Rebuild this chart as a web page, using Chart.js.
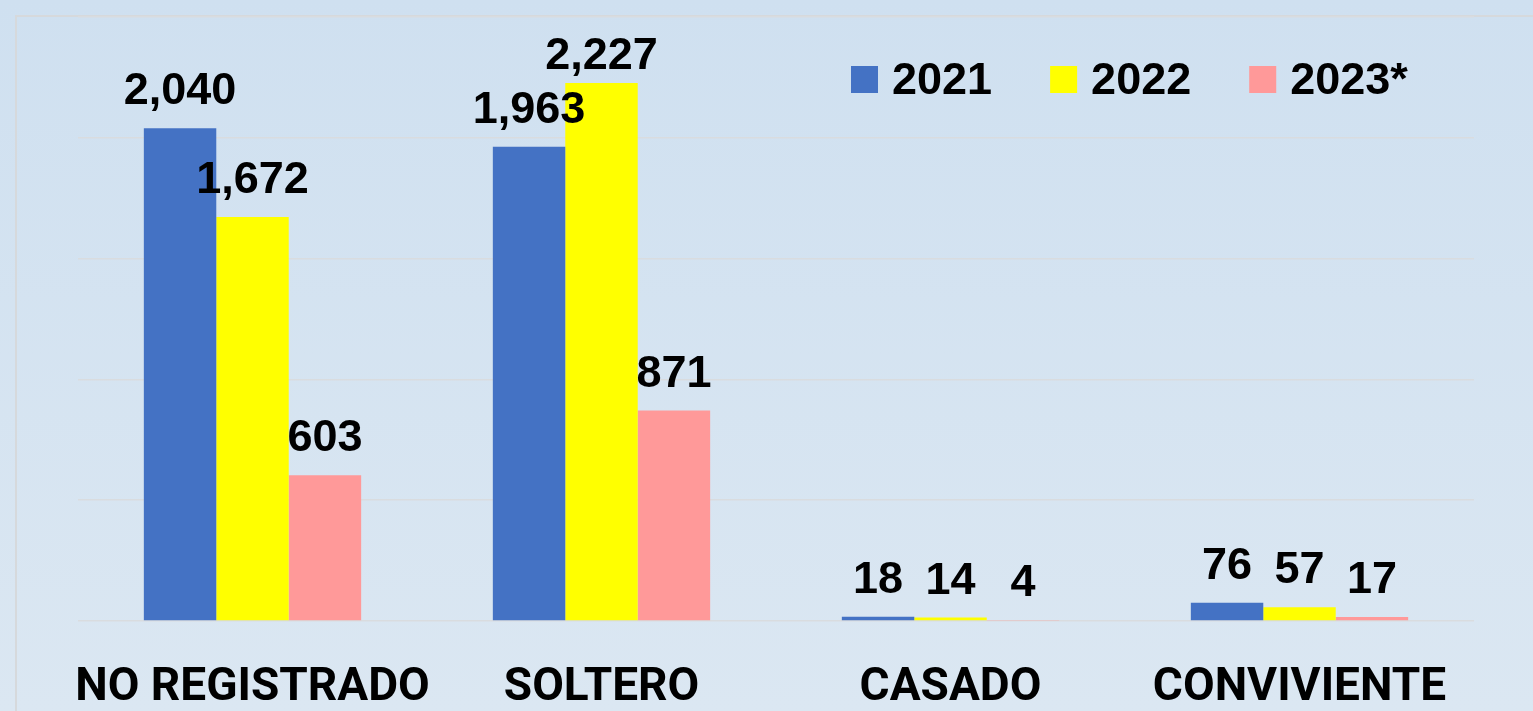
<!DOCTYPE html>
<html>
<head>
<meta charset="utf-8">
<script src="https://cdn.jsdelivr.net/npm/chart.js@4.4.0/dist/chart.umd.min.js"></script>
<style>
  html, body { margin: 0; padding: 0; background: #d3e3f1; overflow: hidden; }
  #wrap { width: 1533px; height: 711px; }
</style>
</head>
<body>
<div id="wrap"><canvas id="estadoChart" width="1533" height="711"></canvas></div>
<script>
const categories = ["NO REGISTRADO", "SOLTERO", "CASADO", "CONVIVIENTE"];
const years = ["2021", "2022", "2023*"];
const values2021 = [2040, 1963, 18, 76];
const values2022 = [1672, 2227, 14, 57];
const values2023 = [603, 871, 4, 17];
const yTicks = [0, 500, 1000, 1500, 2000, 2500];
const colors = ["#4472C4", "#FFFF00", "#FF9999"];

const labelFont = 'bold 45px "Liberation Sans", Arial, sans-serif';

// background gradient + thin frame like the original slide
const backdrop = {
  id: "backdrop",
  beforeDraw(chart) {
    const ctx = chart.ctx;
    const g = ctx.createLinearGradient(0, 0, 0, chart.height);
    g.addColorStop(0, "#cfe0f0");
    g.addColorStop(1, "#dbe7f2");
    ctx.save();
    ctx.fillStyle = g;
    ctx.fillRect(0, 0, chart.width, chart.height);
    ctx.strokeStyle = "#d6d9dc";
    ctx.lineWidth = 2;
    ctx.beginPath();
    ctx.moveTo(16, chart.height);
    ctx.lineTo(16, 16);
    ctx.lineTo(chart.width, 16);
    ctx.stroke();
    ctx.restore();
  }
};

// value labels above each bar
const valueLabels = {
  id: "valueLabels",
  afterDatasetsDraw(chart) {
    const ctx = chart.ctx;
    ctx.save();
    ctx.font = labelFont;
    ctx.fillStyle = "#000";
    ctx.textAlign = "center";
    ctx.textBaseline = "alphabetic";
    chart.data.datasets.forEach((ds, i) => {
      chart.getDatasetMeta(i).data.forEach((bar, j) => {
        const y = Math.max(bar.y - 24, chart.chartArea.top + 52);
        ctx.fillText(ds.data[j].toLocaleString("en-US"), bar.x, y);
      });
    });
    ctx.restore();
  }
};

// legend drawn inside the plot, top right
const insideLegend = {
  id: "insideLegend",
  afterDraw(chart) {
    const ctx = chart.ctx;
    ctx.save();
    ctx.font = labelFont;
    ctx.textBaseline = "alphabetic";
    ctx.textAlign = "left";
    let x = 851;
    chart.data.datasets.forEach(ds => {
      ctx.fillStyle = ds.backgroundColor;
      ctx.fillRect(x, 66, 27, 27);
      ctx.fillStyle = "#000";
      ctx.fillText(ds.label, x + 41, 94);
      x += 27 + 14 + ctx.measureText(ds.label).width + 58;
    });
    ctx.restore();
  }
};

const ctx = document.getElementById("estadoChart").getContext("2d");
new Chart(ctx, {
  type: "bar",
  data: {
    labels: categories,
    datasets: [
      { label: years[0], data: values2021, backgroundColor: colors[0] },
      { label: years[1], data: values2022, backgroundColor: colors[1] },
      { label: years[2], data: values2023, backgroundColor: colors[2] }
    ]
  },
  options: {
    responsive: false,
    animation: false,
    devicePixelRatio: 1,
    layout: { padding: { left: 78, right: 59, top: 17, bottom: 0 } },
    datasets: {
      bar: { barPercentage: 1, categoryPercentage: 0.6227, borderWidth: 0 }
    },
    plugins: {
      legend: { display: false },
      tooltip: { enabled: false }
    },
    scales: {
      x: {
        grid: { display: false, drawTicks: false },
        border: { display: false },
        ticks: {
          autoSkip: false,
          maxRotation: 0,
          minRotation: 0,
          padding: 40,
          color: "#000",
          font: { family: 'Roboto, "Liberation Sans", sans-serif', size: 46, weight: "bold", lineHeight: 1.2 }
        },
        afterFit(scale) { scale.height = 90; }
      },
      y: {
        min: yTicks[0],
        max: yTicks[yTicks.length - 1],
        afterBuildTicks(scale) { scale.ticks = yTicks.map(v => ({ value: v })); },
        grid: { color: "#d9dcdf", lineWidth: 1.5, drawTicks: false },
        border: { display: false },
        ticks: { display: false },
        afterFit(scale) { scale.width = 0; }
      }
    }
  },
  plugins: [backdrop, valueLabels, insideLegend]
});
</script>
</body>
</html>
